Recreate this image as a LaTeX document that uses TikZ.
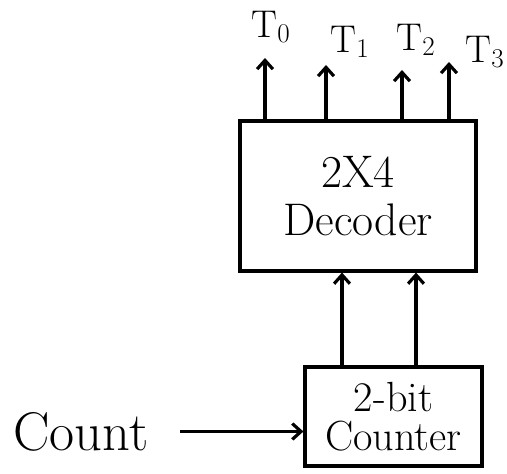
\documentclass[tikz,border=0pt]{standalone}
\usepackage{fontspec}
\usepackage{tikz}
\usetikzlibrary{arrows.meta}

\begin{document}
\begin{tikzpicture}[line width=1.8pt, >={Straight Barb[length=5pt,width=9pt]},
	blk/.style={draw, align=center, inner sep=0pt},
	lbl/.style={font=\fontsize{22}{24}\selectfont, inner sep=0pt}]
	\useasboundingbox (0,0) rectangle (10.14,9.48);
	% the two blocks
	\node [blk, minimum width=4.72cm, minimum height=3cm, font=\fontsize{26}{27}\selectfont] (dec) at (7.16,5.56) {2X4\\Decoder};
	\node [blk, minimum width=3.54cm, minimum height=1.98cm, font=\fontsize{24}{22}\selectfont] (cnt) at (7.87,1.15) {2-bit\\Counter};
	% counter outputs into the decoder
	\draw [->] (cnt.north -| 6.84,0) -- (dec.south -| 6.84,0);
	\draw [->] (cnt.north -| 8.32,0) -- (dec.south -| 8.32,0);
	% count input
	\node [font=\fontsize{31}{33}\selectfont, inner sep=0pt] (count) at (1.62,0.85) {Count};
	\draw [->, shorten <=0.6cm] (count.east) -- (cnt.west |- count.east);
	% decoder outputs
	\coordinate (t0) at (5.30,8.32);
	\coordinate (t1) at (6.52,8.18);
	\coordinate (t2) at (8.04,8.08);
	\coordinate (t3) at (8.98,8.24);
	\draw [->] (dec.north -| t0) -- (t0);
	\draw [->] (dec.north -| t1) -- (t1);
	\draw [->] (dec.north -| t2) -- (t2);
	\draw [->] (dec.north -| t3) -- (t3);
	\node [lbl] (lt0) at (5.42,8.94) {T\textsubscript{0}};
	\node [lbl] (lt1) at (7.00,8.64) {T\textsubscript{1}};
	\node [lbl] (lt2) at (8.32,8.68) {T\textsubscript{2}};
	\node [lbl] (lt3) at (9.70,8.44) {T\textsubscript{3}};
\end{tikzpicture}
\end{document}
